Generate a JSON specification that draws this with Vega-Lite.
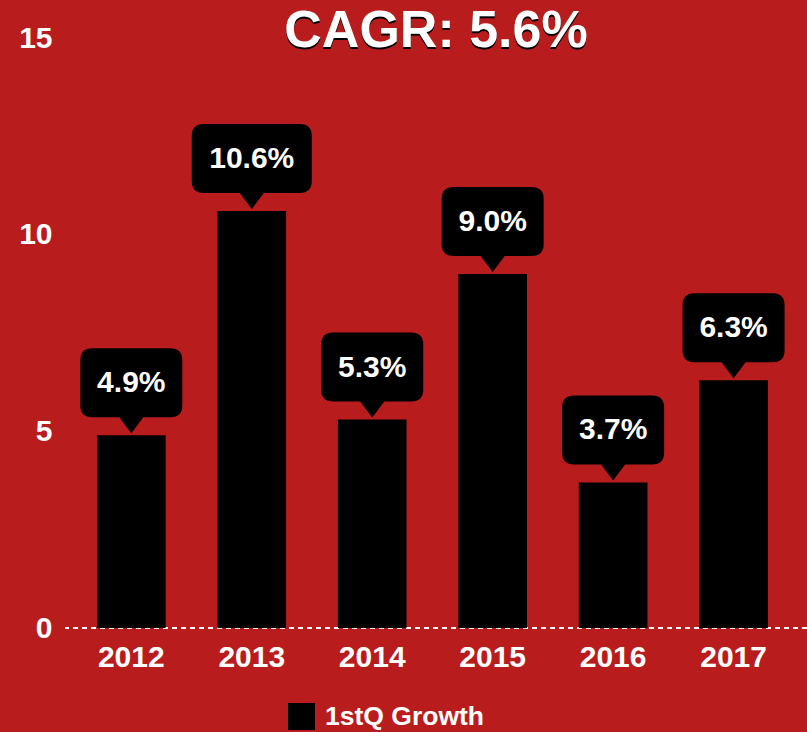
{
  "$schema": "https://vega.github.io/schema/vega-lite/v6.json",
  "width": 742,
  "height": 590,
  "autosize": {"type": "none"},
  "padding": {"left": 65, "top": 38, "right": 0, "bottom": 104},
  "background": "#B91C1C",
  "config": {"view": {"stroke": null}, "font": "Liberation Sans"},
  "title": {
    "text": "CAGR: 5.6%",
    "subtitle": "CAGR: 5.6%\u200a",
    "frame": "group",
    "anchor": "middle",
    "offset": -39,
    "fontSize": 52,
    "fontWeight": "bold",
    "color": "black",
    "font": "Liberation Sans",
    "subtitleFont": "Liberation Sans",
    "subtitleFontSize": 52,
    "subtitleFontWeight": "bold",
    "subtitleColor": "white",
    "subtitlePadding": -54
  },
  "data": {
    "values": [
      {"year": "2012", "value": 4.9, "label": "4.9%"},
      {"year": "2013", "value": 10.6, "label": "10.6%"},
      {"year": "2014", "value": 5.3, "label": "5.3%"},
      {"year": "2015", "value": 9.0, "label": "9.0%"},
      {"year": "2016", "value": 3.7, "label": "3.7%"},
      {"year": "2017", "value": 6.3, "label": "6.3%"}
    ]
  },
  "layer": [
    {
      "mark": {"type": "rule", "color": "white", "strokeDash": [5, 4], "strokeWidth": 1.5, "opacity": 0.6},
      "encoding": {"y": {"datum": 0, "type": "quantitative", "title": null, "scale": {"domain": [0, 15], "nice": false, "zero": true}}}
    },
    {
      "mark": {"type": "bar", "color": "black"},
      "encoding": {
        "x": {
          "field": "year", "type": "ordinal",
          "scale": {"paddingInner": 0.43, "paddingOuter": 0.295, "align": 0.45},
          "axis": {"labelAngle": 0, "labelColor": "white", "labelFontSize": 30, "labelFontWeight": "bold", "domain": false, "ticks": false, "title": null, "labelPadding": 14}
        },
        "y": {
          "field": "value", "type": "quantitative",
          "scale": {"domain": [0, 15], "nice": false},
          "axis": {"values": [0, 5, 10, 15], "domain": false, "ticks": false, "grid": false, "labelColor": "white", "labelFontSize": 30, "labelFontWeight": "bold", "labelPadding": 13, "title": null}
        },
        "color": {
          "datum": "1stQ Growth",
          "scale": {"range": ["black"]},
          "legend": {"orient": "none", "legendX": 223, "legendY": 665, "title": null, "symbolType": "square", "symbolSize": 729, "symbolStrokeWidth": 0, "symbolOpacity": 1, "labelFontSize": 26.5, "labelFontWeight": "bold", "labelColor": "white", "labelOffset": 10}
        }
      }
    },
    {
      "mark": {"type": "point", "filled": true, "size": 10000, "color": "black", "opacity": 1, "strokeWidth": 0},
      "encoding": {
        "x": {"field": "year", "type": "ordinal"},
        "y": {"field": "value", "type": "quantitative"},
        "shape": {
          "condition": {"test": "datum.value >= 10", "value": "M 0 -0.04 L -0.24 -0.36 L -0.96 -0.36 Q -1.2 -0.36 -1.2 -0.6 L -1.2 -1.5 Q -1.2 -1.74 -0.96 -1.74 L 0.96 -1.74 Q 1.2 -1.74 1.2 -1.5 L 1.2 -0.6 Q 1.2 -0.36 0.96 -0.36 L 0.24 -0.36 Z"},
          "value": "M 0 -0.04 L -0.24 -0.36 L -0.78 -0.36 Q -1.02 -0.36 -1.02 -0.6 L -1.02 -1.5 Q -1.02 -1.74 -0.78 -1.74 L 0.78 -1.74 Q 1.02 -1.74 1.02 -1.5 L 1.02 -0.6 Q 1.02 -0.36 0.78 -0.36 L 0.24 -0.36 Z"
        }
      }
    },
    {
      "mark": {"type": "text", "color": "white", "fontSize": 30, "fontWeight": "bold", "dy": -52, "baseline": "middle"},
      "encoding": {
        "x": {"field": "year", "type": "ordinal"},
        "y": {"field": "value", "type": "quantitative"},
        "text": {"field": "label"}
      }
    }
  ]
}
